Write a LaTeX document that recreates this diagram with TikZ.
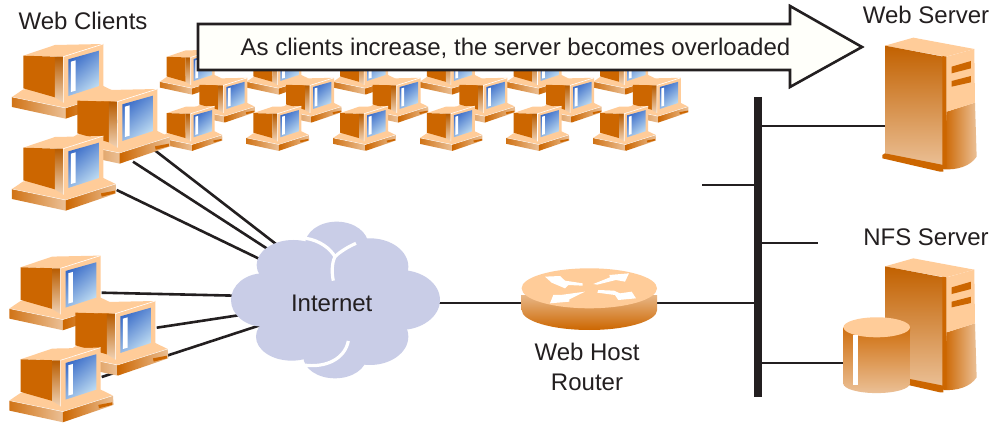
\documentclass[tikz,border=0pt]{standalone}
\usepackage{fontspec}
\setmainfont{Liberation Sans}
\definecolor{peach}{HTML}{FFCC99}
\definecolor{orng}{HTML}{CC6600}
\definecolor{tan2}{HTML}{EBC096}
\definecolor{ink}{HTML}{231F20}
\definecolor{cloudc}{HTML}{C9CDE7}
\definecolor{scrA}{HTML}{3A6CC8}
\definecolor{scrB}{HTML}{C0DDF2}
\tikzset{
  lbl/.style={font=\fontsize{24}{28}\selectfont,text=ink,inner sep=0pt,anchor=base},
  link/.style={draw=ink,line width=2.6pt},
  bus/.style={draw=ink,line width=8pt},
  pc/.pic={
    % base
    \fill[peach] (36,291) -- (70,268) -- (310,258) -- (347,276) -- (197,324) -- cycle;
    \shade[left color=orng!85!tan2,right color=tan2] (36,291) -- (36,321) -- (197,356) -- (197,324) -- cycle;
    \shade[left color=orng,right color=tan2] (197,324) -- (347,276) -- (349,304) -- (197,356) -- cycle;
    \draw[white,line width=.4pt] (36,291) -- (197,324) -- (347,276);
    \fill[orng] (303,304) -- (345,296) -- (345,304) -- (305,314) -- cycle;
    % monitor
    \fill[peach] (70,167) -- (165,135) -- (310,132) -- (190,170) -- cycle;
    \fill[orng] (70,167) -- (165,170) -- (165,292) -- (70,265) -- cycle;
    \shade[top color=orng!90!black,bottom color=tan2!70!white] (165,170) -- (190,170) -- (190,308) -- (165,292) -- cycle;
    \fill[peach] (190,170) -- (310,132) -- (310,265) -- (190,308) -- cycle;
    \draw[white,line width=.6pt] (190,308) -- (190,170) -- (310,132);
    \shade[top color=scrA,bottom color=scrB,shading angle=40] (205,178) -- (297,152) -- (297,258) -- (205,288) -- cycle;
    \fill[white] (213,185) -- (227,181) -- (227,272) -- (213,276) -- cycle;
  },
  serverpic/.pic={
    \fill[peach] (195,137) -- (280,113) -- (463,147) -- (378,170) -- cycle;
    \shade[top color=orng!95!black,bottom color=tan2] (195,137) -- (370,170) -- (370,500) -- (195,460) -- cycle;
    \fill[orng] (187,465) -- (195,460) -- (370,495) -- (370,515) -- (360,515) -- (187,475) -- cycle;
    \shade[left color=orng,right color=tan2] (380,335) -- (465,308) -- (470,470) .. controls (450,500) and (410,510) .. (372,508) -- cycle;
    \fill[orng] (367,168) -- (380,170) -- (380,505) -- (367,508) -- cycle;
    \fill[peach] (380,170) -- (463,147) -- (465,308) -- (380,335) -- cycle;
    \fill[orng] (395,200) -- (453,183) -- (453,205) -- (395,220) -- cycle;
    \fill[orng] (395,243) -- (453,228) -- (453,247) -- (395,260) -- cycle;
  }
}
\begin{document}
\begin{tikzpicture}[x=1pt,y=-1pt]
\useasboundingbox (0,0) rectangle (997,425);
\fill[white] (0,0) rectangle (997,425);
% named connection points
\coordinate (pcA) at (104,111);
\coordinate (pcB) at (133,161.7);
\coordinate (pcC) at (116.7,190);
\coordinate (pcD) at (101.7,292.7);
\coordinate (pcE) at (156.7,327.7);
\coordinate (pcF) at (101.7,377);
\coordinate (netA) at (285,251);
\coordinate (netB) at (280,257);
\coordinate (netC) at (270,264);
\coordinate (netD) at (250,296);
\coordinate (netE) at (260,312);
\coordinate (netF) at (270,322);
\coordinate (busTop) at (758,97);
\coordinate (busBot) at (758,397);
\coordinate (webT) at (758,126);
\coordinate (webS) at (890,126);
\coordinate (stubA) at (702,185);
\coordinate (stubAb) at (758,185);
\coordinate (stubB) at (818,243);
\coordinate (stubBb) at (758,243);
\coordinate (rtrB) at (758,303);
\coordinate (nfsB) at (758,363);
\coordinate (nfsS) at (850,363);
\coordinate (inetR) at (430,303);
\coordinate (rtrL) at (530,303);
\coordinate (rtrR) at (650,303);
% connectors
\draw[link] (pcA) -- (netA);
\draw[link] (pcB) -- (netB);
\draw[link] (pcC) -- (netC);
\draw[link] (pcD) -- (netD);
\draw[link] (pcE) -- (netE);
\draw[link] (pcF) -- (netF);
\draw[link] (inetR) -- (rtrL);
\draw[link] (rtrR) -- (rtrB);
\draw[link] (webT) -- (webS);
\draw[link] (stubA) -- (stubAb);
\draw[link] (stubBb) -- (stubB);
\draw[link] (nfsB) -- (nfsS);
\draw[bus] (busTop) -- (busBot);
% small clients
\foreach \r/\ox/\oy in {0/152.7/23.4,1/185.3/51.4,2/152.7/79.7}{
  \foreach \c in {0,...,5}{
    \pic[scale=.2] at ({\ox+86.7*\c},\oy) {pc};
  }
}
% large clients
\pic[scale=.3333] at (0,0) {pc};
\pic[scale=.3333] at (54,45) {pc};
\pic[scale=.3333] at (0,92) {pc};
\pic[scale=.3333] at (-2.7,211.6) {pc};
\pic[scale=.3333] at (52,257) {pc};
\pic[scale=.3333] at (-2.7,303.6) {pc};
% arrow
\draw[draw=ink,fill=white!98!yellow,line width=2.6pt,miter limit=10]
  (198,24) -- (790,24) -- (790,6) -- (862,47) -- (790,87) -- (790,70) -- (198,70) -- cycle;
% cloud
\begin{scope}[shift={(220,210)},scale=.3333]
  \fill[cloudc] (350,105) ellipse [x radius=95,y radius=70];
  \fill[cloudc] (220,165) ellipse [x radius=110,y radius=75];
  \fill[cloudc] (450,170) ellipse [x radius=115,y radius=85];
  \fill[cloudc] (130,270) ellipse [x radius=97,y radius=80];
  \fill[cloudc] (540,270) ellipse [x radius=120,y radius=90];
  \fill[cloudc] (215,380) ellipse [x radius=107,y radius=72];
  \fill[cloudc] (450,380) ellipse [x radius=115,y radius=85];
  \fill[cloudc] (345,440) ellipse [x radius=95,y radius=65];
  \fill[cloudc] (150,170) rectangle (520,400);
  \draw[white,line width=3.2pt] (258,85) .. controls (300,92) and (330,115) .. (345,140) .. controls (335,160) and (335,190) .. (340,212);
  \draw[white,line width=3.2pt] (345,140) .. controls (360,125) and (385,110) .. (408,100);
  \draw[white,line width=3.2pt] (385,393) .. controls (375,445) and (320,475) .. (250,465);
\end{scope}
% router
\shade[top color=tan2!90!orng,bottom color=orng]
  (521.7,295) -- (521.7,310) arc[start angle=180,end angle=0,x radius=67.7,y radius=20] -- (657,295) -- cycle;
\fill[peach] (589.3,288.3) ellipse [x radius=67.7,y radius=20];
\begin{scope}[shift={(510,260)},scale=.3333]
  \fill[white] (105,50) -- (150,48) -- (165,62) -- (218,70) -- (218,77) -- (175,75) -- (165,85) -- (125,68) -- cycle;
  \fill[white] (357,40) -- (345,65) -- (318,60) -- (262,74) -- (250,72) -- (300,52) -- (298,45) -- cycle;
  \fill[white] (120,130) -- (130,105) -- (152,105) -- (225,95) -- (178,118) -- (178,125) -- cycle;
  \fill[white] (378,115) -- (325,120) -- (315,105) -- (262,98) -- (265,90) -- (312,92) -- (330,100) -- (365,95) -- cycle;
\end{scope}
% servers
\pic[scale=.3333] at (820,0) {serverpic};
\pic[scale=.3333] at (820,220.7) {serverpic};
% disk
\shade[top color=orng!90!tan2,bottom color=tan2]
  (843.3,327.3) -- (843.3,383.6) arc[start angle=180,end angle=0,x radius=33.3,y radius=9.5] -- (910,327.3) -- cycle;
\fill[peach] (876.7,327.3) ellipse [x radius=33.3,y radius=10];
\fill[white] (853.3,335) rectangle (857.7,385);
% labels
\node[lbl] (lblClients) at (83,30) {Web Clients};
\node[lbl] (lblArrow) at (515.5,56) {As clients increase, the server becomes overloaded};
\node[lbl] (lblWeb) at (926,24) {Web Server};
\node[lbl] (lblNfs) at (926,246) {NFS Server};
\node[lbl] (inet) at (331.7,311.7) {Internet};
\node[lbl] (lblHost) at (587,360) {Web Host};
\node[lbl] (lblRouter) at (587,390) {Router};
\end{tikzpicture}
\end{document}
